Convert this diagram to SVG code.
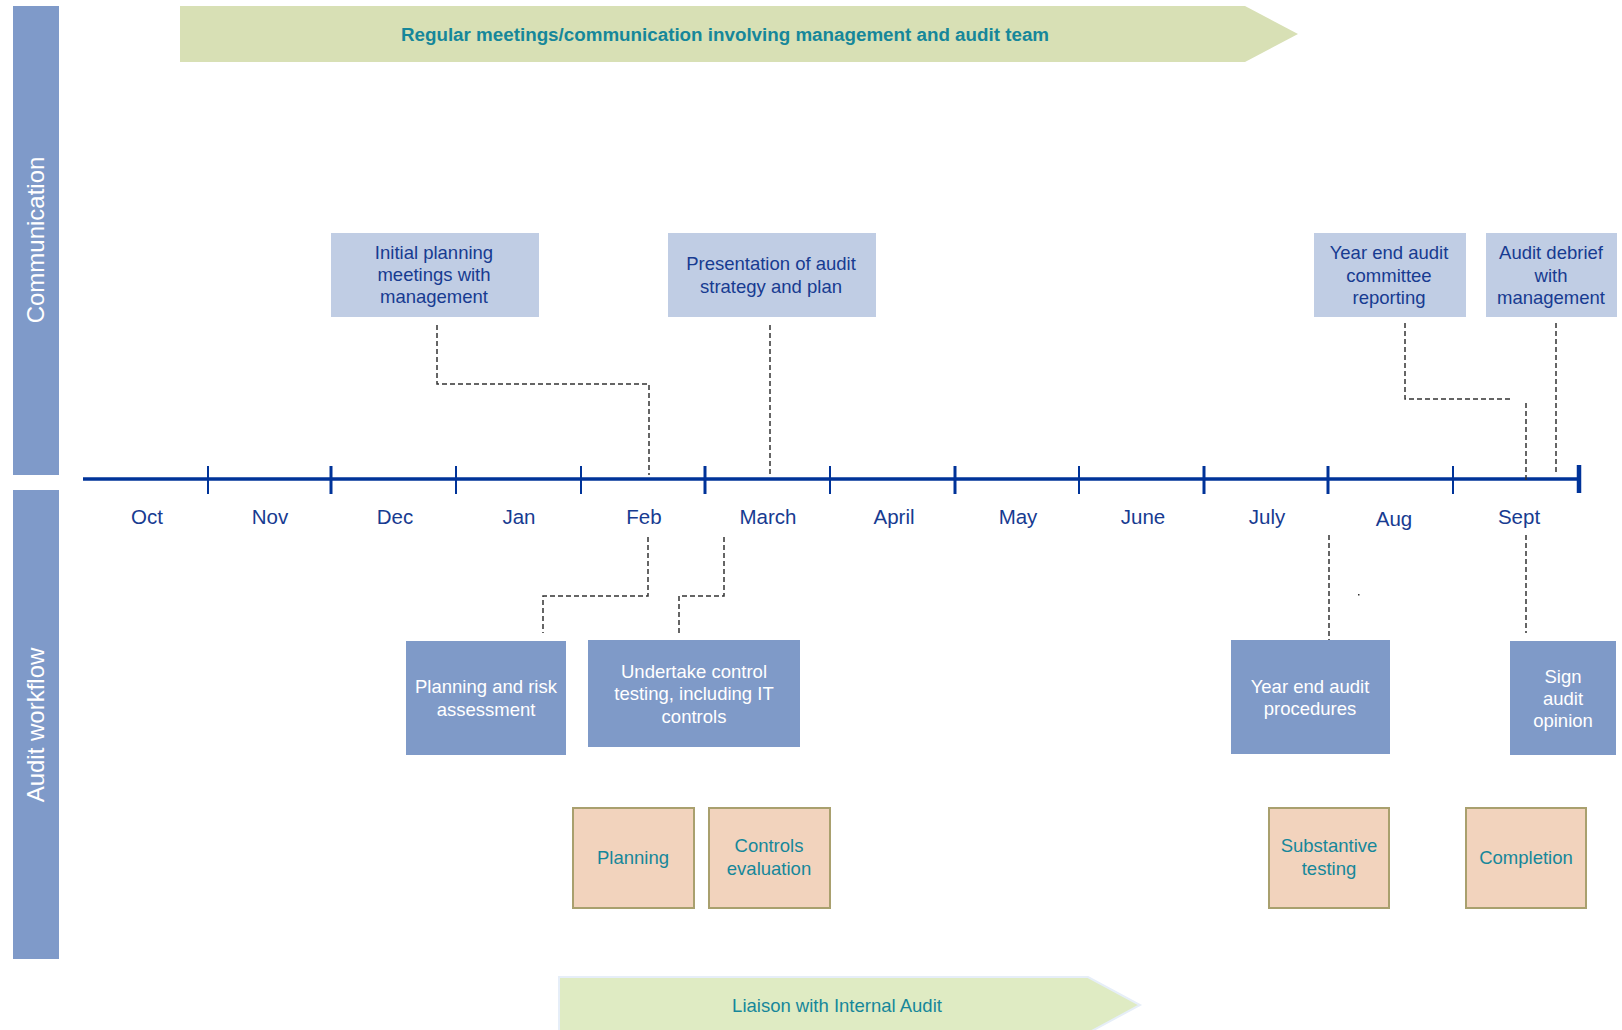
<svg xmlns="http://www.w3.org/2000/svg" width="1622" height="1030" viewBox="0 0 1622 1030">
<style>
text{font-family:"Liberation Sans",Arial,sans-serif;}
.lane{fill:#7F9AC9;}
.lanet{fill:#FFFFFF;font-size:24px;text-anchor:middle;}
.comm{fill:#C0CDE4;}
.commt{fill:#173B91;font-size:18.5px;text-anchor:middle;}
.wf{fill:#7F9AC8;}
.wft{fill:#FFFFFF;font-size:18.5px;text-anchor:middle;}
.ph{fill:#F2D3BD;stroke:#A9A06E;stroke-width:2;}
.pht{fill:#16879A;font-size:18.5px;text-anchor:middle;}
.mon{fill:#173B91;font-size:20.5px;text-anchor:middle;}
.dash{fill:none;stroke:#333333;stroke-width:1.5;stroke-dasharray:5 3;}
.tick{stroke:#003399;stroke-width:2;}
.tickb{stroke:#003399;stroke-width:3;}
</style>

<g id="lane-communication">
<rect class="lane" x="13" y="6" width="46" height="469"/>
<text class="lanet" transform="translate(44,240) rotate(-90)">Communication</text>
</g>
<g id="lane-audit-workflow">
<rect class="lane" x="13" y="490" width="46" height="469"/>
<text class="lanet" transform="translate(44,725) rotate(-90)">Audit workflow</text>
</g>

<g id="banner-regular-meetings">
<polygon points="180,6 1245,6 1298,34 1245,62 180,62" fill="#D8E0B5"/>
<text x="725" y="41" fill="#16879A" font-size="18.8" font-weight="bold" text-anchor="middle">Regular meetings/communication involving management and audit team</text>
</g>

<g id="timeline">
<line x1="83" y1="479" x2="1579" y2="479" stroke="#003399" stroke-width="3.3"/>
<line class="tick" x1="208" y1="466" x2="208" y2="494"/>
<line class="tickb" x1="331" y1="466" x2="331" y2="494"/>
<line class="tick" x1="456" y1="466" x2="456" y2="494"/>
<line class="tick" x1="581" y1="466" x2="581" y2="494"/>
<line class="tickb" x1="705" y1="466" x2="705" y2="494"/>
<line class="tick" x1="830" y1="466" x2="830" y2="494"/>
<line class="tickb" x1="955" y1="466" x2="955" y2="494"/>
<line class="tick" x1="1079" y1="466" x2="1079" y2="494"/>
<line class="tickb" x1="1204" y1="466" x2="1204" y2="494"/>
<line class="tickb" x1="1328" y1="466" x2="1328" y2="494"/>
<line class="tick" x1="1453" y1="466" x2="1453" y2="494"/>
<line x1="1579" y1="465" x2="1579" y2="493" stroke="#003399" stroke-width="4.5"/>
<text class="mon" x="147" y="524">Oct</text>
<text class="mon" x="270" y="524">Nov</text>
<text class="mon" x="395" y="524">Dec</text>
<text class="mon" x="519" y="524">Jan</text>
<text class="mon" x="644" y="524">Feb</text>
<text class="mon" x="768" y="524">March</text>
<text class="mon" x="894" y="524">April</text>
<text class="mon" x="1018" y="524">May</text>
<text class="mon" x="1143" y="524">June</text>
<text class="mon" x="1267" y="524">July</text>
<text class="mon" x="1394" y="526">Aug</text>
<text class="mon" x="1519" y="524">Sept</text>
</g>

<g id="connectors">
<path class="dash" d="M437,325 V384 H649 V475"/>
<path class="dash" d="M770,325 V474"/>
<path class="dash" d="M1405,323 V399 H1511"/>
<path class="dash" d="M1526,403 V483"/>
<path class="dash" d="M1556,323 V475"/>
<path class="dash" d="M648,537 V596 H543 V633"/>
<path class="dash" d="M724,537 V596 H679 V633"/>
<path class="dash" d="M1329,535 V641"/>
<path class="dash" d="M1526,535 V633"/>
<rect x="1358" y="594" width="1.5" height="1.5" fill="#333333"/>
</g>

<g id="comm-initial-planning">
<rect class="comm" x="331" y="233" width="208" height="84"/>
<text class="commt" x="434" y="259">Initial planning</text>
<text class="commt" x="434" y="281">meetings with</text>
<text class="commt" x="434" y="303">management</text>
</g>
<g id="comm-presentation">
<rect class="comm" x="668" y="233" width="208" height="84"/>
<text class="commt" x="771" y="270">Presentation of audit</text>
<text class="commt" x="771" y="293">strategy and plan</text>
</g>
<g id="comm-year-end-reporting">
<rect class="comm" x="1314" y="233" width="152" height="84"/>
<text class="commt" x="1389" y="259">Year end audit</text>
<text class="commt" x="1389" y="282">committee</text>
<text class="commt" x="1389" y="304">reporting</text>
</g>
<g id="comm-audit-debrief">
<rect class="comm" x="1486" y="233" width="131" height="84"/>
<text class="commt" x="1551" y="259">Audit debrief</text>
<text class="commt" x="1551" y="282">with</text>
<text class="commt" x="1551" y="304">management</text>
</g>

<g id="wf-planning-risk">
<rect class="wf" x="406" y="641" width="160" height="114"/>
<text class="wft" x="486" y="693">Planning and risk</text>
<text class="wft" x="486" y="716">assessment</text>
</g>
<g id="wf-control-testing">
<rect class="wf" x="588" y="640" width="212" height="107"/>
<text class="wft" x="694" y="678">Undertake control</text>
<text class="wft" x="694" y="700">testing, including IT</text>
<text class="wft" x="694" y="723">controls</text>
</g>
<g id="wf-year-end-procedures">
<rect class="wf" x="1231" y="640" width="159" height="114"/>
<text class="wft" x="1310" y="693">Year end audit</text>
<text class="wft" x="1310" y="715">procedures</text>
</g>
<g id="wf-sign-opinion">
<rect class="wf" x="1510" y="641" width="106" height="114"/>
<text class="wft" x="1563" y="683">Sign</text>
<text class="wft" x="1563" y="705">audit</text>
<text class="wft" x="1563" y="727">opinion</text>
</g>

<g id="phase-planning">
<rect class="ph" x="573" y="808" width="121" height="100"/>
<text class="pht" x="633" y="864">Planning</text>
</g>
<g id="phase-controls-evaluation">
<rect class="ph" x="709" y="808" width="121" height="100"/>
<text class="pht" x="769" y="852">Controls</text>
<text class="pht" x="769" y="875">evaluation</text>
</g>
<g id="phase-substantive-testing">
<rect class="ph" x="1269" y="808" width="120" height="100"/>
<text class="pht" x="1329" y="852">Substantive</text>
<text class="pht" x="1329" y="875">testing</text>
</g>
<g id="phase-completion">
<rect class="ph" x="1466" y="808" width="120" height="100"/>
<text class="pht" x="1526" y="864">Completion</text>
</g>

<g id="banner-liaison">
<polygon points="559,977 1088,977 1140,1005 1088,1033 559,1033" fill="#DFEBC3" stroke="#E6EEF8" stroke-width="2"/>
<text x="837" y="1012" fill="#16879A" font-size="18.5" text-anchor="middle">Liaison with Internal Audit</text>
</g>
</svg>
